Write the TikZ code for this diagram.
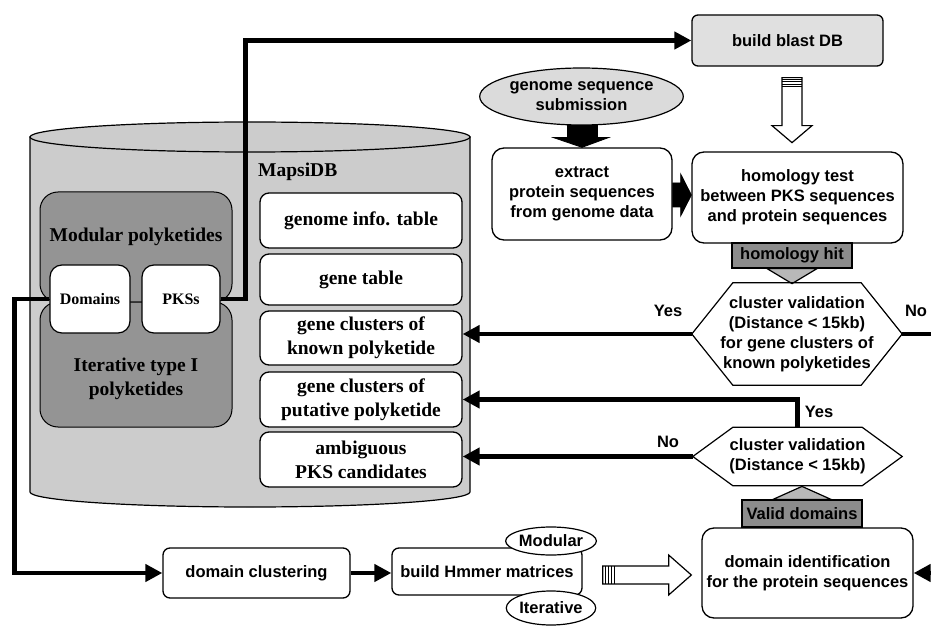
\documentclass[tikz,border=0pt]{standalone}
\usepackage{fontspec}
\setmainfont{Liberation Serif}
\setsansfont{Liberation Sans}
\usetikzlibrary{arrows.meta,calc,shapes.geometric}
\newcommand\mysf{\sffamily\bfseries\fontsize{16.5}{20}\selectfont}
\newcommand\myrm{\rmfamily\bfseries\fontsize{19.5}{24}\selectfont}
\newcommand\myrms{\rmfamily\bfseries\fontsize{16}{19}\selectfont}
\definecolor{cylfill}{gray}{0.80}
\definecolor{darkfill}{gray}{0.58}
\definecolor{hitfill}{gray}{0.55}
\definecolor{headfill}{gray}{0.72}
\definecolor{blastfill}{gray}{0.88}
\definecolor{ellfill}{gray}{0.86}
\begin{document}
\begin{tikzpicture}[x=1pt,y=-1pt,
  sbox/.style={draw, line width=1.3pt, fill=white, rounded corners=9pt, align=center, font=\mysf, inner sep=0pt},
  tbox/.style={draw, line width=1.3pt, fill=white, rounded corners=9pt, align=center, font=\myrm, inner sep=0pt, minimum width=202pt},
  region/.style={draw, line width=1pt, fill=darkfill, rounded corners=18pt, inner sep=0pt, minimum width=192pt},
  smallbox/.style={draw, line width=1.2pt, fill=white, rounded corners=12pt, font=\myrms, inner sep=0pt, minimum height=68pt},
  conn/.style={line width=4.5pt, -{Triangle[length=17pt,width=17pt]}},
  plainconn/.style={line width=4.5pt},
  lbl/.style={font=\mysf, inner sep=0pt, align=center},
  hollowarrow/.style={draw, line width=1.2pt, fill=white},
  solidarrow/.style={fill=black, draw=black, line width=0.8pt},
  oval/.style={draw, line width=1.2pt, ellipse, inner sep=0pt, font=\mysf, align=center}]
\useasboundingbox (0,0) rectangle (931,628);

% ---------- database cylinder ----------
\draw[line width=1.2pt, fill=cylfill] (30,137) -- (30,492)
  .. controls (30,500.3) and (128.5,507) .. (250,507)
  .. controls (371.5,507) and (470,500.3) .. (470,492) -- (470,137) -- cycle;
\draw[line width=1.2pt, fill=cylfill] (250,137) ellipse [x radius=220, y radius=15];
\node[font=\myrm, anchor=west, inner sep=0pt] (mapsi) at (258,172) {MapsiDB};

% ---------- polyketide regions ----------
\node[region, minimum height=110pt] (modreg) at (136,247) {};
\node[region, minimum height=125pt] (itreg) at (136,364.5) {};
\node[font=\myrm, inner sep=0pt] (modtxt) at (136,237) {Modular polyketides};
\node[font=\myrm, inner sep=0pt, align=center] (ittxt) at (136,379) {Iterative type I\\polyketides};
\node[smallbox, minimum width=80pt] (dom) at (90,299) {Domains};
\node[smallbox, minimum width=78pt] (pks) at (181,299) {PKSs};

% ---------- tables ----------
\node[tbox, minimum height=55pt] (ginfo) at (361,220.5) {genome info. table};
\node[tbox, minimum height=51pt] (gtab) at (361,279.5) {gene table};
\node[tbox, minimum height=54pt] (known) at (361,338) {gene clusters of\\known polyketide};
\node[tbox, minimum height=55pt] (put) at (361,399.5) {gene clusters of\\putative polyketide};
\node[tbox, minimum height=55pt] (amb) at (361,459.5) {ambiguous\\PKS candidates};

% ---------- top right ----------
\node[sbox, fill=blastfill, rounded corners=6pt, minimum width=191pt, minimum height=51pt] (blast) at (787.5,40.5) {build blast DB};
\node[oval, fill=ellfill, minimum width=203pt, minimum height=57pt] (gs) at (581.5,96.5) {genome sequence\\submission};
\node[sbox, minimum width=180pt, minimum height=92pt, rounded corners=12pt] (extract) at (582,194) {extract\\protein sequences\\from genome data};
\node[sbox, minimum width=211pt, minimum height=91pt, rounded corners=12pt] (homol) at (797.5,197.5) {homology test\\between PKS sequences\\and protein sequences};

% hollow arrow blast -> homology
\draw[hollowarrow] ($(blast.south)+(-5.5,11)$) -- ++(20,0) -- ++(0,48) -- ++(10,0) -- ++(-20,17) -- ++(-20,-17) -- ++(10,0) -- cycle;
\foreach \d in {1.5,4,6.5,9}
  \draw[line width=0.9pt] ($(blast.south)+(-5.5,11+\d)$) -- ++(20,0);

% solid arrow genome submission -> extract
\draw[solidarrow] ($(gs.south)+(-14,0)$) -- ++(30,0) -- ++(0,12) -- ++(11,0) -- ($(extract.north)+(0,0)$) -- ($(gs.south)+(-28,12)$) -- ++(14,0) -- cycle;

% solid arrow extract -> homology
\draw[solidarrow] ($(extract.east)+(0,-11)$) -- ++(8,0) -- ++(0,-9) -- ($(homol.west)+(0,-2.5)$) -- ($(extract.east)+(8,22)$) -- ++(0,-9) -- ++(-8,0) -- cycle;

% homology hit arrow
\node[draw, line width=1.2pt, fill=hitfill, inner sep=0pt, minimum width=120pt, minimum height=25pt, font=\mysf] (hit) at (792,255.5) {homology hit};
\draw[line width=1.2pt, fill=headfill] ($(hit.south)+(-25,0)$) -- ($(hit.south)+(25,0)$) -- ($(hit.south)+(0,15)$) -- cycle;

% hexagon 1
\node[lbl, minimum width=210pt, minimum height=102pt] (h1) at (797,334) {cluster validation\\(Distance < 15kb)\\for gene clusters of\\known polyketides};
\draw[line width=1.2pt] (h1.west) -- ($(h1.north west)+(41,0)$) -- ($(h1.north east)+(-41,0)$) -- (h1.east) -- ($(h1.south east)+(-41,0)$) -- ($(h1.south west)+(41,0)$) -- cycle;

% hexagon 2
\node[lbl, minimum width=209pt, minimum height=58pt] (h2) at (797.5,456.5) {cluster validation\\(Distance < 15kb)};
\draw[line width=1.2pt] (h2.west) -- ($(h2.north west)+(40,0)$) -- ($(h2.north east)+(-40,0)$) -- (h2.east) -- ($(h2.south east)+(-40,0)$) -- ($(h2.south west)+(40,0)$) -- cycle;

% labels
\node[lbl] (yes1) at (668,311) {Yes};
\node[lbl] (no1) at (916,311) {No};
\node[lbl] (yes2) at (819,412) {Yes};
\node[lbl] (no2) at (668,442) {No};

% valid domains arrow
\node[draw, line width=1.2pt, fill=hitfill, inner sep=0pt, minimum width=120pt, minimum height=27pt, font=\mysf] (valid) at (802,513.5) {Valid domains};
\draw[line width=1.2pt, fill=headfill] ($(valid.north)+(-29,0)$) -- ($(valid.north)+(29,0)$) -- ($(valid.north)+(0,-13)$) -- cycle;

% domain identification
\node[sbox, minimum width=211pt, minimum height=90pt, rounded corners=12pt] (dident) at (807.5,573) {domain identification\\for the protein sequences};

% ---------- bottom row ----------
\node[sbox, minimum width=187pt, minimum height=50pt, rounded corners=7pt] (dclust) at (256.5,573) {domain clustering};
\node[sbox, minimum width=190pt, minimum height=47pt, rounded corners=7pt] (hmm) at (487,571.5) {build Hmmer matrices};
\node[oval, fill=white, minimum width=82pt, minimum height=28pt] (modul) at (551,541) {Modular};
\node[oval, fill=white, minimum width=82pt, minimum height=34pt] (iter) at (551,608) {Iterative};

% hollow arrow hmmer -> domain identification
\draw[hollowarrow] ($(hmm.east)+(20,-5.5)$) -- ++(66,0) -- ++(0,-11) -- ($(dident.west)+(-10,2)$) -- ($(hmm.east)+(86,23.5)$) -- ++(0,-11) -- ++(-66,0) -- cycle;
\foreach \d in {2.5,5.5,8.5,11.5}
  \draw[line width=0.9pt] ($(hmm.east)+(20+\d,-5.5)$) -- ++(0,18);

% ---------- thick connectors ----------
\draw[conn] (pks.east) -- ++(25,0) |- (blast.west);
\draw[conn] (dom.west) -- ++(-35,0) |- (dclust.west);
\draw[conn] (dclust.east) -- (dclust.east -| hmm.west);
\draw[conn] (h1.west) -- (h1.west -| known.east);
\coordinate (redgeA) at (931,334);
\draw[plainconn] (h1.east) -- (redgeA);
\draw[conn] (h2.north) |- (put.east);
\draw[conn] (h2.west) -- (h2.west -| amb.east);
\coordinate (redgeB) at (935,573);
\draw[conn] (redgeB) -- (dident.east);
\end{tikzpicture}
\end{document}
